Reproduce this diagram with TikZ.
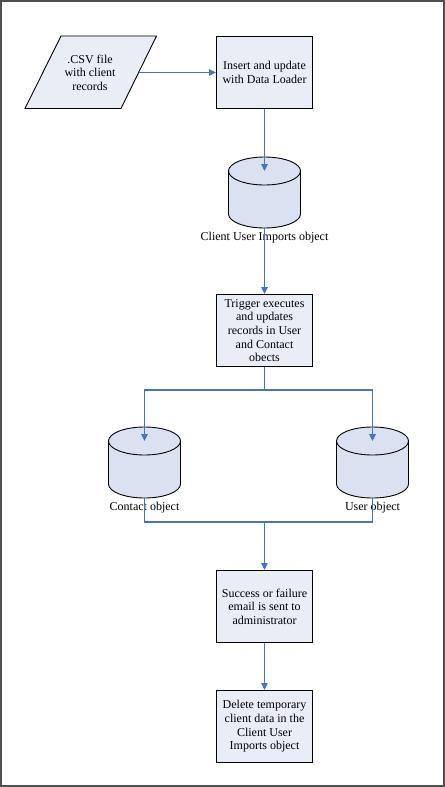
\documentclass[tikz,border=0pt]{standalone}
\usepackage{fontspec}
\setmainfont{Liberation Serif}
\usetikzlibrary{arrows.meta}
\definecolor{boxfill}{RGB}{233,237,246}
\definecolor{drumfill}{RGB}{218,225,240}
\definecolor{flowblue}{RGB}{68,114,196}
\definecolor{framegray}{RGB}{80,80,80}
\tikzset{
  txt/.style={font=\fontsize{12bp}{13.6bp}\selectfont, align=center, inner sep=0pt},
  procbox/.style={txt, draw=black, fill=boxfill, line width=0.9bp,
    minimum width=96bp, minimum height=72bp},
  datashape/.style={draw=black, fill=boxfill, line width=0.9bp, line join=miter},
  link/.style={draw=flowblue, line width=1.1bp},
  flow/.style={link, -{Triangle[length=7bp,width=6.5bp]}},
  drum/.pic={
    \path[draw=black, fill=drumfill, line width=0.9bp]
      (-36,0) -- (-36,43) arc[start angle=180,end angle=0,x radius=36,y radius=14]
      -- (36,0) arc[start angle=0,end angle=-180,x radius=36,y radius=14] -- cycle;
    \draw[black, line width=0.9bp]
      (-36,0) arc[start angle=180,end angle=0,x radius=36,y radius=14];
    \coordinate (-top) at (0,0);
    \coordinate (-bot) at (0,57);
  }
}
\begin{document}
\begin{tikzpicture}[x=1bp,y=-1bp]
\useasboundingbox (0,0) rectangle (445,787);
% outer frame
\draw[framegray, line width=1.2bp] (1,1) rectangle (444,786);

% input data file
\draw[datashape] (61,36) -- (156.5,36) -- (121,108.5) -- (25,108.5) -- cycle;
\node[txt] (csv) at (90,72.5) {.CSV file\\with client\\records};
\coordinate (csvR) at (138.8,72.5);

% process steps
\node[procbox] (b1) at (264.5,72.5) {Insert and update\\with Data Loader};
\node[procbox] (b2) at (264.5,330.5) {Trigger executes\\and updates\\records in User\\and Contact\\obects};
\node[procbox] (b3) at (264.5,606.5) {Success or failure\\email is sent to\\administrator};
\node[procbox] (b4) at (264.5,726.5) {Delete temporary\\client data in the\\Client User\\Imports object};

% database objects
\pic (c1) at (264.5,171) {drum};
\pic (c2) at (144.5,441) {drum};
\pic (c3) at (372.5,441) {drum};
\node[txt] (c1lab) at (264.5,238) {Client User Imports object};
\node[txt] (c2lab) at (144.5,508) {Contact object};
\node[txt] (c3lab) at (372.5,508) {User object};

% connectors
\coordinate (split) at (264.5,390);
\coordinate (joinL) at (144.5,522);
\coordinate (joinR) at (372.5,522);
\coordinate (join) at (264.5,522);
\draw[flow] (csvR) -- (b1.west);
\draw[flow] (b1.south) -- (c1-top);
\draw[flow] (c1-bot) -- (b2.north);
\draw[link] (b2.south) -- (split);
\draw[flow] (split) -| (c2-top);
\draw[flow] (split) -| (c3-top);
\draw[link] (c2-bot) -- (joinL) -- (joinR) -- (c3-bot);
\draw[flow] (join) -- (b3.north);
\draw[flow] (b3.south) -- (b4.north);
\end{tikzpicture}
\end{document}
